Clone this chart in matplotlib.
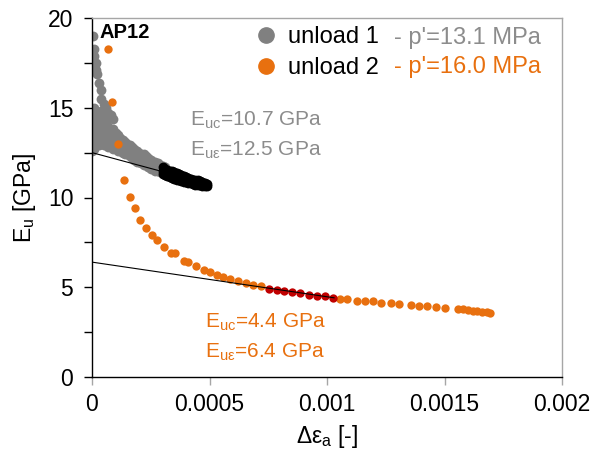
import matplotlib
matplotlib.use("Agg")
import matplotlib.pyplot as plt
from matplotlib.lines import Line2D
from matplotlib.ticker import MultipleLocator
import numpy as np

plt.rcParams['font.family'] = ['Liberation Sans', 'DejaVu Sans']
plt.rcParams['mathtext.fontset'] = 'custom'
plt.rcParams['mathtext.rm'] = 'Liberation Sans'
plt.rcParams['mathtext.it'] = 'Liberation Sans:italic'

# ---- data (strain in units of 1e-4 for readability, converted below) ----
gray_x = [0.02]*6 + [0.05]*7 + [0.1]*7 + [0.15]*5 + [0.2]*5 + [0.3]*4 + [0.4]*6 + [0.5]*5 + \
         [0.6]*4 + [0.7]*4 + [0.8]*4 + [0.9]*4 + [1.0]*3 + [1.1]*3 + [1.2]*3 + [1.3]*3 + \
         [1.4]*3 + [1.5]*3 + [1.6]*3 + [1.7]*3 + [1.8]*3 + [1.9]*3 + [2.0]*3 + [2.1]*3 + \
         [2.2]*3 + [2.3]*3 + [2.4]*3 + [2.5]*3 + [2.6]*3 + [2.7]*3 + [2.8]*3 + [2.9]*3 + \
         [3.0]*3 + [3.1]*3
gray_E = [12.6, 13.0, 13.4, 13.8, 14.2, 14.6,
          19.0, 12.8, 13.3, 13.7, 14.1, 14.5, 14.9,
          18.3, 17.9, 12.7, 13.2, 14.0, 14.4, 15.0,
          17.5, 17.1, 13.0, 13.6, 14.3,
          16.9, 12.9, 13.4, 13.9, 14.6,
          16.4, 12.9, 13.5, 14.2,
          16.0, 15.5, 13.0, 13.6, 14.1, 14.8,
          15.2, 12.9, 13.4, 13.9, 14.5,
          15.0, 12.9, 13.5, 14.2,
          14.7, 12.8, 13.3, 13.9,
          14.6, 12.8, 13.2, 13.7,
          14.4, 12.7, 13.2, 13.8,
          12.7, 13.1, 13.6,
          12.6, 13.0, 13.5,
          12.6, 12.9, 13.3,
          12.5, 12.8, 13.2,
          12.4, 12.8, 13.1,
          12.4, 12.7, 13.0,
          12.3, 12.6, 12.9,
          12.2, 12.5, 12.8,
          12.1, 12.4, 12.7,
          12.0, 12.3, 12.6,
          12.0, 12.3, 12.5,
          11.9, 12.2, 12.4,
          11.8, 12.1, 12.4,
          11.8, 12.0, 12.3,
          11.7, 11.95, 12.2,
          11.6, 11.9, 12.1,
          11.6, 11.8, 12.0,
          11.5, 11.75, 11.95,
          11.45, 11.7, 11.9,
          11.4, 11.6, 11.8,
          11.4, 11.55, 11.75,
          11.35, 11.5, 11.7]

black_x = [3.0]*3 + [3.1]*3 + [3.2]*3 + [3.3]*3 + [3.4]*3 + [3.5]*3 + [3.6]*3 + [3.7]*3 + \
          [3.8]*3 + [3.9]*3 + [4.0]*3 + [4.1]*3 + [4.2]*3 + [4.3]*3 + [4.4]*3 + [4.5]*3 + \
          [4.6]*3 + [4.7]*3 + [4.8]*2 + [4.9]*2
black_E = [11.3, 11.5, 11.7,
           11.25, 11.45, 11.6,
           11.2, 11.4, 11.55,
           11.15, 11.35, 11.5,
           11.1, 11.3, 11.45,
           11.05, 11.25, 11.4,
           11.0, 11.2, 11.35,
           10.95, 11.15, 11.3,
           10.9, 11.1, 11.25,
           10.88, 11.05, 11.2,
           10.85, 11.0, 11.15,
           10.8, 10.95, 11.1,
           10.78, 10.92, 11.05,
           10.75, 10.88, 11.0,
           10.72, 10.85, 10.98,
           10.7, 10.8, 10.95,
           10.68, 10.78, 10.9,
           10.66, 10.75, 10.85,
           10.65, 10.8,
           10.66, 10.75]

orange_x = [0.68, 0.85, 1.10, 1.36, 1.60, 1.84, 2.06, 2.30, 2.56, 2.77, 3.07, 3.38, 3.52,
            3.90, 4.10, 4.41, 4.75, 5.03, 5.33, 5.59, 5.88, 6.23, 6.55, 6.86, 7.19,
            10.54, 10.83, 11.26, 11.61, 11.95, 12.30, 12.72, 13.06, 13.57, 13.91, 14.25,
            14.62, 15.00, 15.59, 15.80, 16.00, 16.20, 16.40, 16.60, 16.80, 16.94]
orange_E = [18.3, 15.3, 13.0, 11.0, 10.04, 9.43, 8.75, 8.30, 7.91, 7.63, 7.24, 6.91, 6.91,
            6.44, 6.38, 6.18, 5.94, 5.83, 5.66, 5.58, 5.47, 5.36, 5.23, 5.10, 5.07,
            4.37, 4.33, 4.26, 4.22, 4.21, 4.15, 4.10, 4.06, 4.01, 3.96, 3.94,
            3.90, 3.86, 3.79, 3.77, 3.74, 3.70, 3.67, 3.64, 3.60, 3.57]

red_x = [7.54, 7.86, 8.17, 8.50, 8.85, 9.24, 9.59, 9.90, 10.27]
red_E = [4.92, 4.85, 4.77, 4.72, 4.66, 4.58, 4.51, 4.49, 4.42]

# linear fits (intercept GPa, slope GPa per unit strain, strain range)
fit1_E0, fit1_slope, fit1_xmax = 12.5, -3530.0, 4.8e-4
fit2_E0, fit2_slope, fit2_xmax = 6.4, -1930.0, 1.03e-3

scale = 1e-4
gray_x = np.array(gray_x) * scale
black_x = np.array(black_x) * scale
orange_x = np.array(orange_x) * scale
red_x = np.array(red_x) * scale

C_GRAY = '#808080'
C_ORANGE = '#E8700F'
C_RED = '#C00000'
C_TGRAY = '#8C8C8C'

fig = plt.figure(figsize=(6.03, 4.53), dpi=100)
ax = fig.add_axes([92/603, 1-377/453, 470/603, 359/453])

ms = 36
ax.scatter(gray_x, gray_E, s=50, color=C_GRAY, linewidths=0, zorder=2)
ax.scatter(orange_x, orange_E, s=ms, color=C_ORANGE, linewidths=0, zorder=2)
ax.scatter(black_x, black_E, s=50, color='black', linewidths=0, zorder=3)
ax.scatter(red_x, red_E, s=ms, color=C_RED, linewidths=0, zorder=3)

xx1 = np.array([0, fit1_xmax])
ax.plot(xx1, fit1_E0 + fit1_slope*xx1, color='black', lw=0.8, zorder=4)
xx2 = np.array([0, fit2_xmax])
ax.plot(xx2, fit2_E0 + fit2_slope*xx2, color='black', lw=0.8, zorder=4)

ax.set_xlim(0, 0.002)
ax.set_ylim(0, 20)
ax.set_xticks([0, 0.0005, 0.001, 0.0015, 0.002])
ax.set_xticklabels(['0', '0.0005', '0.001', '0.0015', '0.002'])
ax.yaxis.set_major_locator(MultipleLocator(5))
ax.yaxis.set_minor_locator(MultipleLocator(2.5))
ax.tick_params(axis='both', which='both', direction='out', length=5.5, width=1, labelsize=16.5)
ax.tick_params(axis='x', colors='#A6A6A6', labelcolor='black', pad=6)
ax.tick_params(axis='y', pad=8)

for s in ['left', 'bottom']:
    ax.spines[s].set_color('black')
    ax.spines[s].set_linewidth(1)
for s in ['top', 'right']:
    ax.spines[s].set_color('#A6A6A6')
    ax.spines[s].set_linewidth(1)

ax.set_xlabel(r'Δε$_\mathrm{a}$ [-]', fontsize=16.5, labelpad=5)
ax.set_ylabel(r'E$_\mathrm{u}$ [GPa]', fontsize=16.5, labelpad=7)

ax.text(0.0000325, 19.2, 'AP12', fontsize=14.5, fontweight='bold', va='center', ha='left')

handles = [Line2D([], [], marker='o', ls='none', color=C_GRAY, markersize=11),
           Line2D([], [], marker='o', ls='none', color=C_ORANGE, markersize=11)]
leg = ax.legend(handles, ['unload 1', 'unload 2'], loc='upper left',
                bbox_to_anchor=(0.33, 0.99), frameon=False, fontsize=17,
                handletextpad=0.35, handlelength=1.2, labelspacing=0.38,
                borderpad=0.2, borderaxespad=0)
ax.text(0.643, 0.944, "- p'=13.1 MPa", transform=ax.transAxes, fontsize=17,
        color=C_TGRAY, va='center', ha='left')
ax.text(0.643, 0.8635, "- p'=16.0 MPa", transform=ax.transAxes, fontsize=17,
        color=C_ORANGE, va='center', ha='left')

ax.text(4.15e-4, 14.3, r'E$_\mathrm{uc}$=10.7 GPa', fontsize=15, color=C_TGRAY, va='center', ha='left')
ax.text(4.15e-4, 12.65, r'E$_\mathrm{u\varepsilon}$=12.5 GPa', fontsize=15, color=C_TGRAY, va='center', ha='left')
ax.text(4.79e-4, 3.06, r'E$_\mathrm{uc}$=4.4 GPa', fontsize=15, color=C_ORANGE, va='center', ha='left')
ax.text(4.79e-4, 1.39, r'E$_\mathrm{u\varepsilon}$=6.4 GPa', fontsize=15, color=C_ORANGE, va='center', ha='left')

fig.savefig('out.png', dpi=100)
